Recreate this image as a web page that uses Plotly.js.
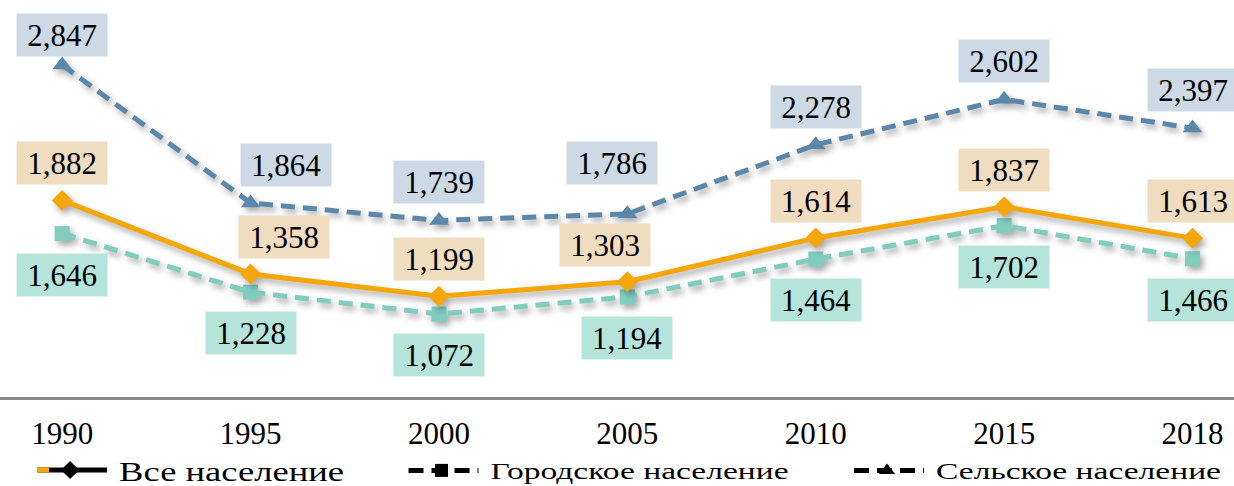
<!DOCTYPE html>
<html><head><meta charset="utf-8">
<script src="https://cdn.plot.ly/plotly-3.0.1.min.js"></script>
<style>html,body{margin:0;padding:0;background:#fff}#chart{width:1234px;height:486px}</style>
</head><body><div id="chart"></div>
<script>
const years = ['1990','1995','2000','2005','2010','2015','2018'];
const total = [1882,1358,1199,1303,1614,1837,1613];
const urban = [1646,1228,1072,1194,1464,1702,1466];
const rural = [2847,1864,1739,1786,2278,2602,2397];
const seriesNames = ['Все население','Городское население','Сельское население'];

const fmt = v => v.toLocaleString('en-US');
const FONT = '"Liberation Serif","DejaVu Serif",serif';

const traces = [
  {x: years, y: rural, mode:'lines+markers', showlegend:false, cliponaxis:false,
   line:{color:'#5b87aa', width:5, dash:'14px,8px'}, marker:{symbol:'triangle-up', size:17, color:'#5b87aa'}},
  {x: years, y: urban, mode:'lines+markers', showlegend:false, cliponaxis:false,
   line:{color:'#80cdc0', width:5, dash:'14px,8px'}, marker:{symbol:'square', size:15, color:'#80cdc0'}},
  {x: years, y: total, mode:'lines+markers', showlegend:false, cliponaxis:false,
   line:{color:'#f5a70a', width:5}, marker:{symbol:'diamond', size:16, color:'#f5a70a'}},
  {x:[null], y:[null], mode:'lines+markers', name:seriesNames[0], legend:'legend',
   line:{color:'#000', width:5}, marker:{symbol:'diamond', size:14, color:'#000'}},
  {x:[null], y:[null], mode:'lines+markers', name:seriesNames[1], legend:'legend2',
   line:{color:'#000', width:5, dash:'15px,8px'}, marker:{symbol:'square', size:13, color:'#000'}},
  {x:[null], y:[null], mode:'lines+markers', name:seriesNames[2], legend:'legend3',
   line:{color:'#000', width:5, dash:'15px,8px'}, marker:{symbol:'triangle-up', size:14, color:'#000'}}
];

const ann = [];
const xAdj = {rural:{1:35,3:-15}, total:{1:33,3:-22}, urban:{}};
const yAdj = {rural:{0:-8,3:13}, total:{}, urban:{}};
function addLabels(vals, key, bg, ysh){
  vals.forEach((v,i)=>{
    ann.push({x: i, y: v, xref:'x', yref:'y', text: fmt(v), showarrow:false,
      xshift: (xAdj[key][i]||0), yshift: ysh + (yAdj[key][i]||0),
      width: 86, height: 38, bgcolor: bg, borderpad: 2,
      font:{family:FONT, size:31, color:'#000'}});
  });
}
addLabels(rural,'rural','#cdd9e4',38);
addLabels(total,'total','#f0dcbf',37);
addLabels(urban,'urban','#b5e4da',-41);

const legBase = {orientation:'h', yanchor:'middle', y:-0.185, xanchor:'left',
  bgcolor:'rgba(0,0,0,0)', font:{family:FONT, size:23, color:'#000'}};
const layout = {
  width:1234, height:486,
  margin:{l:0, r:0, t:0, b:89, autoexpand:false},
  paper_bgcolor:'#fff', plot_bgcolor:'#fff',
  font:{family:FONT, color:'#000'},
  xaxis:{type:'category', range:[-0.33,6.22], showgrid:false, zeroline:false, automargin:false,
    showline:true, linecolor:'#888', linewidth:3, ticks:'', ticklabelstandoff:7,
    tickfont:{family:FONT, size:31, color:'#000'}},
  yaxis:{range:[481,3310], visible:false, showgrid:false, zeroline:false},
  showlegend:true,
  legend: Object.assign({}, legBase, {x:0.026, font:{family:FONT, size:27, color:'#000'}}),
  legend2: Object.assign({}, legBase, {x:0.327}),
  legend3: Object.assign({}, legBase, {x:0.688}),
  annotations: ann
};

const legendTextWidths = {legend:225, legend2:298, legend3:285};

function decorate(){
  document.querySelectorAll('.scatterlayer .trace').forEach(t=>{
    t.style.filter='drop-shadow(3px 4px 3px rgba(0,0,0,0.35))';
  });
  document.querySelectorAll('.infolayer > g').forEach(lg=>{
    const id = lg.getAttribute('class');
    if(!(id in legendTextWidths)) return;
    lg.querySelectorAll('[clip-path]').forEach(e=>e.removeAttribute('clip-path'));
    lg.querySelectorAll('.traces').forEach(g=>{
      const ln = g.querySelector('.legendlines path');
      if(ln){ ln.setAttribute('d','M5,0h70'); }
      if(id==='legend' && ln && !g.querySelector('.orangebit')){
        const o = ln.cloneNode(); o.setAttribute('d','M5,0h12');
        o.setAttribute('class','orangebit');
        o.style.stroke='#f5a70a'; o.style.strokeDasharray='';
        ln.parentNode.appendChild(o);
      }
      g.querySelectorAll('.legendpoints path').forEach(p=>p.setAttribute('transform','translate(38,0)'));
      g.querySelectorAll('text').forEach(tx=>{
        tx.setAttribute('x', 87);
        tx.setAttribute('textLength', legendTextWidths[id]);
        tx.setAttribute('lengthAdjust','spacingAndGlyphs');
      });
    });
  });
}

const gd = document.getElementById('chart');
Plotly.newPlot(gd, traces, layout, {displayModeBar:false, staticPlot:true}).then(()=>{
  decorate();
  gd.on && gd.on('plotly_afterplot', decorate);
  setTimeout(decorate, 50);
  setTimeout(decorate, 300);
});
</script></body></html>
